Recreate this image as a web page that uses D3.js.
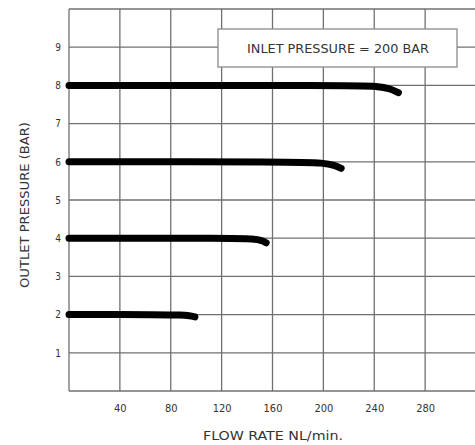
<!DOCTYPE html>
<html>
<head>
<meta charset="utf-8">
<script src="https://cdn.jsdelivr.net/npm/d3@7"></script>
<style>
html,body{margin:0;padding:0;background:#fff;}
svg{display:block;}
text{font-family:"Liberation Sans Narrow","DejaVu Sans Condensed","Liberation Sans",sans-serif;fill:#333;}
</style>
</head>
<body>
<svg id="chart" width="475" height="445"></svg>
<script>
// Data
const xTicks = [40, 80, 120, 160, 200, 240, 280];
const yTicks = [1, 2, 3, 4, 5, 6, 7, 8, 9];
const xGrid = [0, 40, 80, 120, 160, 200, 240, 280, 320];
const yGrid = [0, 1, 2, 3, 4, 5, 6, 7, 8, 9, 10];
const curve2 = [[0, 2], [75, 2], [88, 1.99], [95, 1.97], [99, 1.94]];
const curve4 = [[0, 4], [130, 4], [145, 3.98], [152, 3.94], [155, 3.88]];
const curve6 = [[0, 6], [180, 6], [200, 5.97], [209, 5.91], [214, 5.83]];
const curve8 = [[0, 8], [222, 8], [243, 7.98], [253, 7.91], [259, 7.81]];
const curves = [curve2, curve4, curve6, curve8];
const legendText = "INLET PRESSURE = 200 BAR";
const xTitle = "FLOW RATE NL/min.";
const yTitle = "OUTLET PRESSURE (BAR)";

const svg = d3.select("#chart");
const x = d3.scaleLinear().domain([0, 320]).range([69, 476]);
const y = d3.scaleLinear().domain([0, 10]).range([391, 9]);

// grid
const g = svg.append("g");
g.selectAll("line.v").data(xGrid).join("line")
  .attr("x1", d => x(d)).attr("x2", d => x(d))
  .attr("y1", y(0)).attr("y2", y(10))
  .attr("stroke", "#707070").attr("stroke-width", 1.3);
g.selectAll("line.h").data(yGrid).join("line")
  .attr("y1", d => y(d)).attr("y2", d => y(d))
  .attr("x1", x(0)).attr("x2", x(320))
  .attr("stroke", "#707070").attr("stroke-width", 1.3);

// legend box
svg.append("rect").attr("x", 218).attr("y", 29).attr("width", 239).attr("height", 38)
  .attr("fill", "#fff").attr("stroke", "#8a8a8a").attr("stroke-width", 1.3);
svg.append("text").attr("x", 338).attr("y", 52.5).attr("text-anchor", "middle")
  .attr("font-size", 12).attr("textLength", 182).attr("lengthAdjust", "spacingAndGlyphs")
  .text(legendText);

// curves
const line = d3.line().x(d => x(d[0])).y(d => y(d[1])).curve(d3.curveBasis);
svg.selectAll("path.curve").data(curves).join("path")
  .attr("d", line).attr("fill", "none").attr("stroke", "#000")
  .attr("stroke-width", 7).attr("stroke-linecap", "round");

// axes labels
const xAxis = d3.axisBottom(x).tickValues(xTicks).tickSize(0).tickPadding(0);
const xa = svg.append("g").attr("transform", `translate(0,${y(0)})`).call(xAxis);
xa.select(".domain").remove();
xa.selectAll("text").attr("y", 17).attr("dy", "0.35em").attr("font-size", 11).attr("fill", "#444")
  .style("font-family", '"Liberation Sans Narrow","DejaVu Sans Condensed",sans-serif');

const yAxis = d3.axisLeft(y).tickValues(yTicks).tickSize(0).tickPadding(0);
const ya = svg.append("g").attr("transform", `translate(${x(0)},0)`).call(yAxis);
ya.select(".domain").remove();
ya.selectAll("text").attr("x", -11).attr("text-anchor", "middle").attr("font-size", 10).attr("fill", "#444")
  .style("font-family", '"Liberation Sans Narrow","DejaVu Sans Condensed",sans-serif');

svg.append("text").attr("x", 273).attr("y", 439.5).attr("text-anchor", "middle")
  .attr("font-size", 12).attr("textLength", 140).attr("lengthAdjust", "spacingAndGlyphs")
  .text(xTitle);
svg.append("text").attr("transform", "translate(29,205) rotate(-90)").attr("text-anchor", "middle")
  .attr("font-size", 12).attr("textLength", 166).attr("lengthAdjust", "spacingAndGlyphs")
  .text(yTitle);
</script>
</body>
</html>
